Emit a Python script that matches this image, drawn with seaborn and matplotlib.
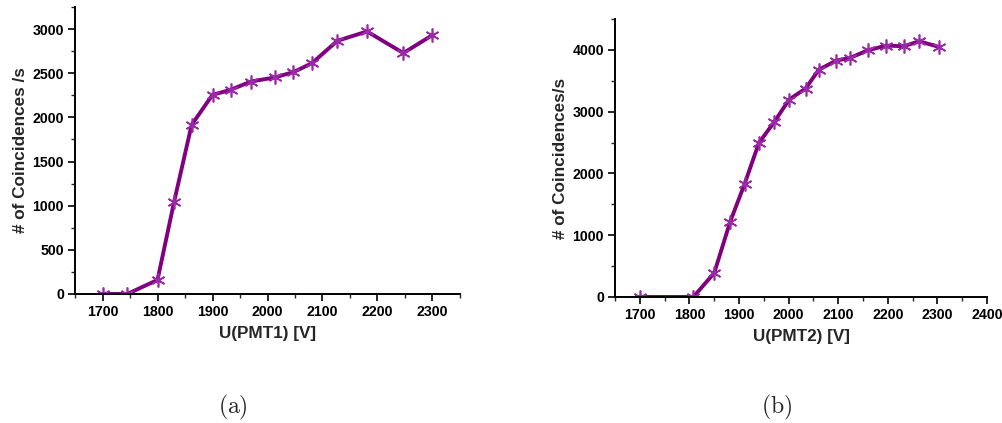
import pandas as pd
import matplotlib
matplotlib.use("Agg")
import matplotlib.pyplot as plt
from matplotlib.ticker import MultipleLocator
import seaborn as sns

# PMT1 plateau scan
pmt1_voltage = [1700, 1745, 1800, 1830, 1862, 1900, 1933, 1970, 2013, 2047,
                2081, 2127, 2181, 2247, 2300]
pmt1_rate = [0, 0, 159, 1039, 1915, 2255, 2312, 2406, 2452, 2512,
             2614, 2867, 2973, 2728, 2932]

# PMT2 plateau scan
pmt2_voltage = [1700, 1808, 1850, 1882, 1911, 1940, 1971, 2001, 2034, 2061,
                2096, 2124, 2160, 2197, 2232, 2263, 2303]
pmt2_rate = [0, 0, 389, 1215, 1825, 2494, 2834, 3196, 3374, 3681,
             3827, 3871, 3995, 4070, 4059, 4140, 4049]

sns.set_style("ticks")
plt.rcParams['font.family'] = ['Liberation Sans', 'DejaVu Sans']
plt.rcParams['mathtext.fontset'] = 'cm'

line_color = '#800080'
marker_color = '#9a2aa6'

fig = plt.figure(figsize=(10.03, 4.23), dpi=100)
ax1 = fig.add_axes([0.0748, 0.305, 0.3838, 0.6785])
ax2 = fig.add_axes([0.6132, 0.298, 0.3709, 0.657])

df1 = pd.DataFrame({'U': pmt1_voltage, 'rate': pmt1_rate})
df2 = pd.DataFrame({'U': pmt2_voltage, 'rate': pmt2_rate})

panels = [
    (ax1, df1, 'U(PMT1) [V]', '# of Coincidences /s', (1650, 2350), (0, 3250), 100, 50, 500, 250),
    (ax2, df2, 'U(PMT2) [V]', '# of Coincidences/s', (1650, 2400), (0, 4500), 100, 50, 1000, 500),
]

for ax, df, xl, yl, xlim, ylim, xmaj, xmin, ymaj, ymin in panels:
    sns.lineplot(data=df, x='U', y='rate', ax=ax, color=line_color, linewidth=2.8,
                 marker=(6, 2, 0), markersize=10, markeredgecolor=marker_color,
                 markeredgewidth=1.2, markerfacecolor=marker_color)
    ax.set_xlim(*xlim)
    ax.set_ylim(*ylim)
    ax.xaxis.set_major_locator(MultipleLocator(xmaj))
    ax.xaxis.set_minor_locator(MultipleLocator(xmin))
    ax.yaxis.set_major_locator(MultipleLocator(ymaj))
    ax.yaxis.set_minor_locator(MultipleLocator(ymin))
    ax.set_xlabel(xl, fontsize=12.3, fontweight='bold', labelpad=5)
    ax.set_ylabel(yl, fontsize=12.3, fontweight='bold', labelpad=3)
    for s in ['top', 'right']:
        ax.spines[s].set_visible(False)
    for s in ['left', 'bottom']:
        ax.spines[s].set_linewidth(1.4)
        ax.spines[s].set_color('black')
    ax.tick_params(which='major', direction='out', length=5, width=1.2,
                   labelsize=10.2, colors='black', pad=3)
    ax.tick_params(which='minor', direction='out', length=3, width=1.0)
    for lab in ax.get_xticklabels() + ax.get_yticklabels():
        lab.set_fontweight('bold')

fig.text(233 / 1003, 1 - 407 / 423, r'$\mathrm{(a)}$', fontsize=17, ha='center', va='center')
fig.text(777 / 1003, 1 - 407 / 423, r'$\mathrm{(b)}$', fontsize=17, ha='center', va='center')

fig.savefig('out.png', dpi=100)
